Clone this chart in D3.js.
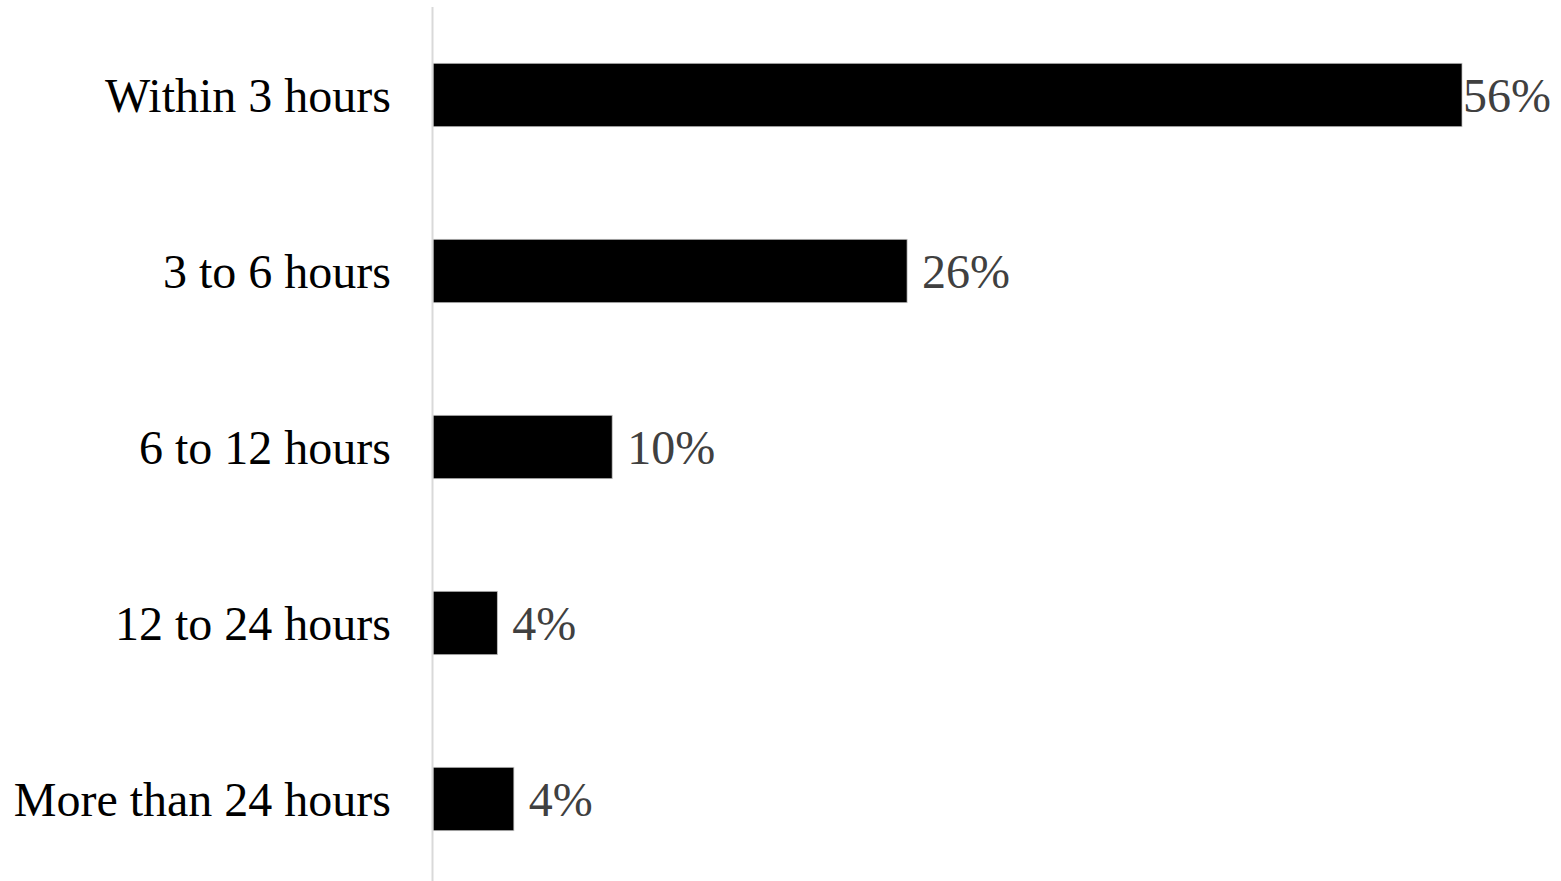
<!DOCTYPE html>
<html>
<head>
<meta charset="utf-8">
<script src="https://cdn.jsdelivr.net/npm/d3@7"></script>
<style>
  html, body { margin: 0; padding: 0; background: #fff; }
  svg { display: block; }
</style>
</head>
<body>
<svg id="chart" width="1561" height="881"></svg>
<script>
const categories = ["Within 3 hours", "3 to 6 hours", "6 to 12 hours", "12 to 24 hours", "More than 24 hours"];
const values = [56, 25.8, 9.75, 3.5, 4.4];
const valueLabels = ["56%", "26%", "10%", "4%", "4%"];

const W = 1561, H = 881;
const svg = d3.select("#chart");
const x0 = 433;

const x = d3.scaleLinear().domain([0, 56]).range([x0, 1462]);
const y = d3.scaleBand().domain(categories).range([7, 887])
  .paddingInner(0.64).paddingOuter(0.32);

const font = "'Liberation Serif', 'Times New Roman', serif";

// bars
svg.append("g").selectAll("rect")
  .data(categories)
  .join("rect")
  .attr("x", x0)
  .attr("y", d => y(d))
  .attr("width", (d, i) => x(values[i]) - x0)
  .attr("height", y.bandwidth())
  .attr("fill", "#000")
  .attr("stroke", "#bfbfbf")
  .attr("stroke-width", 0.75);

// axis line
svg.append("line")
  .attr("x1", 432.5).attr("x2", 432.5)
  .attr("y1", 7).attr("y2", H)
  .attr("stroke", "#d9d9d9").attr("stroke-width", 2);

// category labels
svg.append("g").selectAll("text")
  .data(categories)
  .join("text")
  .attr("x", 391)
  .attr("y", d => y(d) + y.bandwidth() / 2)
  .attr("dy", "0.35em")
  .attr("text-anchor", "end")
  .attr("font-family", font)
  .attr("font-size", 48)
  .attr("fill", "#000")
  .text(d => d);

// value labels
const vl = svg.append("g").selectAll("text")
  .data(categories)
  .join("text")
  .attr("y", d => y(d) + y.bandwidth() / 2)
  .attr("dy", "0.35em")
  .attr("font-family", font)
  .attr("font-size", 48)
  .attr("fill", "#404040")
  .text((d, i) => valueLabels[i]);

vl.each(function(d, i) {
  const w = this.getComputedTextLength();
  let px = x(values[i]) + 15;
  if (px + w > 1551) px = 1551 - w;
  d3.select(this).attr("x", px);
});
</script>
</body>
</html>
